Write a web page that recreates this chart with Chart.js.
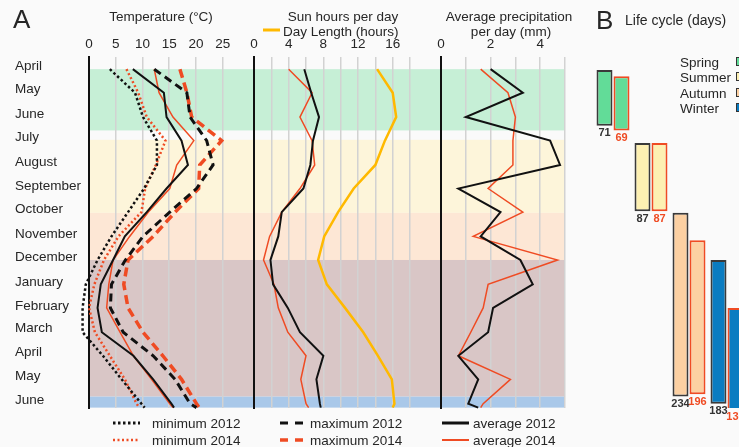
<!DOCTYPE html>
<html>
<head>
<meta charset="utf-8">
<script src="https://cdn.jsdelivr.net/npm/chart.js@4.4.1/dist/chart.umd.min.js"></script>
<style>
  html, body { margin: 0; padding: 0; }
  body {
    width: 739px; height: 447px; overflow: hidden; position: relative;
    background: #fafafa; color: #262626;
    font-family: "Liberation Sans", Arial, sans-serif;
  }
  canvas { position: absolute; top: 0; }
  .t { position: absolute; white-space: nowrap; font-size: 13.5px; line-height: 15px; }
  .c { transform: translate(-50%, -50%); }
  .m { transform: translateY(-50%); }
  .big { font-size: 26px; line-height: 28px; }
  .key svg { position: absolute; }
  .sq { position: absolute; width: 7px; height: 7px; border: 1px solid #333; }
</style>
</head>
<body>
<canvas id="temp" width="274" height="447" style="left:0"></canvas>
<canvas id="sun" width="227" height="447" style="left:234px"></canvas>
<canvas id="rain" width="164" height="447" style="left:421px"></canvas>
<canvas id="cycle" width="186" height="447" style="left:574px"></canvas>

<div class="t big m" style="left:13px;top:19px">A</div>
<div class="t c" style="left:161px;top:16px">Temperature (°C)</div>
<div class="t c" style="left:343px;top:16px">Sun hours per day</div>
<svg style="position:absolute;left:263px;top:28px" width="17" height="4"><line x1="0" y1="2" x2="17" y2="2" stroke="#ffb900" stroke-width="3"/></svg>
<div class="t m" style="left:283px;top:31px">Day Length (hours)</div>
<div class="t c" style="left:509px;top:16px">Average precipitation</div>
<div class="t c" style="left:511px;top:31px">per day (mm)</div>

<div class="t big m" style="left:596px;top:20px">B</div>
<div class="t m" style="left:625px;top:20px;font-size:14px">Life cycle (days)</div>
<div class="t m" style="left:680px;top:62px">Spring</div>
<div class="t m" style="left:680px;top:77px">Summer</div>
<div class="t m" style="left:680px;top:93px">Autumn</div>
<div class="t m" style="left:680px;top:108px">Winter</div>
<div class="sq" style="left:736px;top:57px;background:#62dc98"></div>
<div class="sq" style="left:736px;top:72px;background:#fdf0b2"></div>
<div class="sq" style="left:736px;top:88px;background:#fcd0a2"></div>
<div class="sq" style="left:736px;top:103px;background:#0a7cc1"></div>

<div class="key">
  <svg style="left:113px;top:420px" width="27" height="6"><line x1="0" y1="3" x2="27" y2="3" stroke="#111" stroke-width="3" stroke-dasharray="2.5 2.5"/></svg>
  <svg style="left:113px;top:437px" width="27" height="6"><line x1="0" y1="3" x2="27" y2="3" stroke="#ef4b23" stroke-width="2.5" stroke-dasharray="2 2.5"/></svg>
  <svg style="left:280px;top:420px" width="24" height="6"><line x1="0" y1="3" x2="24" y2="3" stroke="#111" stroke-width="3" stroke-dasharray="8 7"/></svg>
  <svg style="left:280px;top:437px" width="24" height="6"><line x1="0" y1="3" x2="24" y2="3" stroke="#ef4b23" stroke-width="3.5" stroke-dasharray="8 7"/></svg>
  <svg style="left:442px;top:420px" width="27" height="6"><line x1="0" y1="3" x2="27" y2="3" stroke="#111" stroke-width="3"/></svg>
  <svg style="left:442px;top:437px" width="27" height="6"><line x1="0" y1="3" x2="27" y2="3" stroke="#ef4b23" stroke-width="2"/></svg>
</div>
<div class="t m" style="left:152px;top:423px">minimum 2012</div>
<div class="t m" style="left:152px;top:440px">minimum 2014</div>
<div class="t m" style="left:310px;top:423px">maximum 2012</div>
<div class="t m" style="left:310px;top:440px">maximum 2014</div>
<div class="t m" style="left:473px;top:423px">average 2012</div>
<div class="t m" style="left:473px;top:440px">average 2014</div>

<script>
// time axis: days counted from 1 April 2012
const months = ["April", "May", "June", "July", "August", "September", "October",
  "November", "December", "January", "February", "March", "April", "May", "June"];
const monthStart = [0, 30, 61, 91, 122, 153, 183, 214, 244, 275, 306, 334, 365, 395, 426];
const sampleDay = [4, 34, 65, 95, 126, 156, 186, 217, 247, 278, 308, 339, 369, 399, 430, 435];

// temperature (°C)
const tempMin2012 = [3.9, 8.6, 10.1, 12.7, 12.7, 10.3, 7.3, 4.2, 1.6, -0.6, -1.2, -1.2, 2.6, 6.1, 9.8, 10.4];
const tempMin2014 = [7.0, 9.2, 10.8, 14.3, 12.5, 10.5, 9.8, 5.5, 2.8, 1.0, 0.0, 1.1, 3.9, 6.7, 8.9, 9.4];
const tempMax2012 = [12.2, 18.3, 18.9, 22.0, 23.2, 20.1, 15.1, 10.1, 6.8, 4.2, 4.0, 6.4, 12.0, 16.1, 18.9, 20.1];
const tempMax2014 = [17.0, 18.3, 19.2, 24.8, 20.7, 20.5, 16.1, 12.0, 7.3, 6.5, 7.3, 10.1, 13.8, 17.3, 20.1, 20.6];
const tempAvg2012 = [8.2, 14.0, 14.5, 17.3, 18.5, 14.5, 10.8, 6.7, 4.5, 2.2, 1.6, 2.4, 8.3, 12.0, 15.4, 15.9];
const tempAvg2014 = [12.2, 13.1, 15.7, 19.6, 16.4, 15.1, 11.1, 7.6, 4.5, 3.7, 3.3, 5.8, 8.3, 11.7, 15.1, 15.7];

// sunshine and day length (hours)
const sun2012 = [5.8, 6.6, 7.5, 6.8, 6.5, 5.7, 3.2, 2.8, 1.9, 2.2, 3.9, 5.3, 8.0, 7.2, 7.6, 7.7];
const sun2014 = [4.0, 6.7, 5.3, 6.7, 7.0, 5.3, 3.2, 1.8, 1.1, 2.3, 2.8, 3.9, 6.0, 5.4, 6.0, 6.3];
const dayLength = [14.2, 16.0, 16.4, 15.1, 14.0, 11.5, 9.7, 8.1, 7.4, 8.4, 10.5, 12.6, 14.3, 15.9, 16.2, 16.0];

// precipitation (mm per day)
const rain2012 = [2.0, 3.3, 1.0, 4.4, 4.8, 0.7, 2.4, 1.6, 3.2, 3.7, 2.1, 1.9, 0.7, 1.5, 1.1, 1.5];
const rain2014 = [1.6, 2.7, 3.0, 2.9, 2.9, 1.9, 3.3, 1.3, 4.7, 1.9, 1.7, 1.2, 0.7, 2.8, 1.7, 1.6];

// seasons shaded behind panel A (day ranges)
const bandFrom = [4, 94, 187, 247, 421];
const bandTo = [82, 187, 247, 421, 435];
const bandColors = ["#c6efd6", "#fdf5da", "#fde7d5", "#d9c6c6", "#a9c8e9"];

// life cycle: first day and length in days
const seasons = ["Spring", "Summer", "Autumn", "Winter"];
const cycleStart2012 = [5, 98, 187, 247];
const cycleDays2012 = [71, 87, 234, 183];
const cycleStart2014 = [13, 98, 222, 308];
const cycleDays2014 = [69, 87, 196, 130];
const seasonFill = ["#62dc98", "#fdf0b2", "#fcd0a2", "#0a7cc1"];

const tempTicks = [0, 5, 10, 15, 20, 25];
const sunTicks = [0, 2, 4, 6, 8, 10, 12, 14, 16, 18];
const sunLabels = [0, 4, 8, 12, 16];
const rainTicks = [0, 1, 2, 3, 4, 5];
const rainLabels = [0, 2, 4];

const dayMin = -11.5, dayMax = 435.5;
const BLACK = "#111", RED = "#ef4b23", GRID = "#d2d2d2", TEXT = "#262626";

Chart.defaults.font.family = '"Liberation Sans", Arial, sans-serif';
Chart.defaults.font.size = 13.5;
Chart.defaults.color = TEXT;

const points = vals => vals.map((v, i) => ({ x: v, y: sampleDay[i] }));

const seasonShading = {
  id: "seasonShading",
  beforeDraw(chart) {
    const { ctx, chartArea: a, scales: { y } } = chart;
    ctx.save();
    bandFrom.forEach((from, i) => {
      const top = y.getPixelForValue(from);
      const bottom = y.getPixelForValue(bandTo[i]);
      ctx.fillStyle = bandColors[i];
      ctx.fillRect(a.left, top, a.right - a.left, bottom - top);
    });
    ctx.restore();
  }
};

function line(data, color, width, dash) {
  return {
    data: points(data), borderColor: color, borderWidth: width,
    borderDash: dash || [], pointRadius: 0, tension: 0, clip: false
  };
}

function panel(canvasId, datasets, xMax, ticks, labels, pad, yAxis) {
  return new Chart(document.getElementById(canvasId), {
    type: "line",
    data: { datasets },
    options: {
      responsive: false,
      animation: false,
      indexAxis: "y",
      layout: { padding: { left: pad.left, right: pad.right, top: 37, bottom: 39 } },
      plugins: { legend: { display: false }, tooltip: { enabled: false } },
      scales: {
        x: {
          type: "linear", position: "top", min: 0, max: xMax,
          afterBuildTicks: s => { s.ticks = ticks.map(v => ({ value: v })); },
          afterFit: s => { s.height = 20; },
          grid: { color: GRID, lineWidth: 1.5, drawTicks: false },
          border: { display: false },
          ticks: {
            padding: 5, autoSkip: false, maxRotation: 0,
            callback: v => (labels.includes(v) ? v : "")
          }
        },
        y: yAxis
      }
    },
    plugins: [seasonShading]
  });
}

const plainY = {
  type: "linear", reverse: true, min: dayMin, max: dayMax,
  afterFit: s => { s.width = 0; },
  grid: { display: false },
  border: { color: BLACK, width: 2 },
  ticks: { display: false }
};

// temperature panel, carries the month labels
panel("temp", [
  line(tempMin2012, BLACK, 2.5, [2.5, 2.5]),
  line(tempMin2014, RED, 2.5, [2, 2.5]),
  line(tempMax2012, BLACK, 3, [8, 5]),
  line(tempMax2014, RED, 3.5, [9, 5]),
  line(tempAvg2012, BLACK, 2),
  line(tempAvg2014, RED, 1.5)
], 30.85, tempTicks, tempTicks, { left: 15, right: 20 }, {
  type: "linear", reverse: true, min: dayMin, max: dayMax,
  afterBuildTicks: s => { s.ticks = monthStart.map(v => ({ value: v })); },
  afterFit: s => { s.width = 74; },
  grid: { display: false },
  border: { color: BLACK, width: 2 },
  ticks: { crossAlign: "far", padding: 0, autoSkip: false, callback: (v, i) => months[i] }
});

panel("sun", [
  line(dayLength, "#ffb900", 2.5),
  line(sun2012, BLACK, 2),
  line(sun2014, RED, 1.5)
], 21.57, sunTicks, sunLabels, { left: 20, right: 20 }, plainY);

panel("rain", [
  line(rain2012, BLACK, 2),
  line(rain2014, RED, 1.5)
], 5, rainTicks, rainLabels, { left: 20, right: 20 }, plainY);

// panel B: floating bars, labelled with their length in days
const durationLabels = {
  id: "durationLabels",
  afterDatasetsDraw(chart) {
    const ctx = chart.ctx;
    const lengths = [cycleDays2012, cycleDays2014];
    const colors = ["#333", "#ef4b23"];
    ctx.save();
    ctx.font = 'bold 11px "Liberation Sans", Arial, sans-serif';
    ctx.textAlign = "center";
    ctx.textBaseline = "top";
    chart.data.datasets.forEach((ds, di) => {
      ctx.fillStyle = colors[di];
      chart.getDatasetMeta(di).data.forEach((bar, i) => {
        ctx.fillText(String(lengths[di][i]), bar.x, Math.max(bar.y, bar.base) + 2);
      });
    });
    ctx.restore();
  }
};

new Chart(document.getElementById("cycle"), {
  type: "bar",
  data: {
    labels: seasons,
    datasets: [
      {
        label: "2012",
        data: cycleStart2012.map((s, i) => [s, s + cycleDays2012[i]]),
        backgroundColor: seasonFill, borderColor: "#3a3a3a", borderWidth: 2, borderSkipped: false
      },
      {
        label: "2014",
        data: cycleStart2014.map((s, i) => [s, s + cycleDays2014[i]]),
        backgroundColor: seasonFill, borderColor: RED, borderWidth: 2, borderSkipped: false
      }
    ]
  },
  options: {
    responsive: false,
    animation: false,
    layout: { padding: { left: 20, right: 14, top: 57, bottom: 39 } },
    datasets: { bar: { categoryPercentage: 0.895, barPercentage: 0.94 } },
    plugins: { legend: { display: false }, tooltip: { enabled: false } },
    scales: {
      x: { display: false },
      y: { display: false, reverse: true, min: dayMin, max: dayMax }
    }
  },
  plugins: [durationLabels]
});
</script>
</body>
</html>
